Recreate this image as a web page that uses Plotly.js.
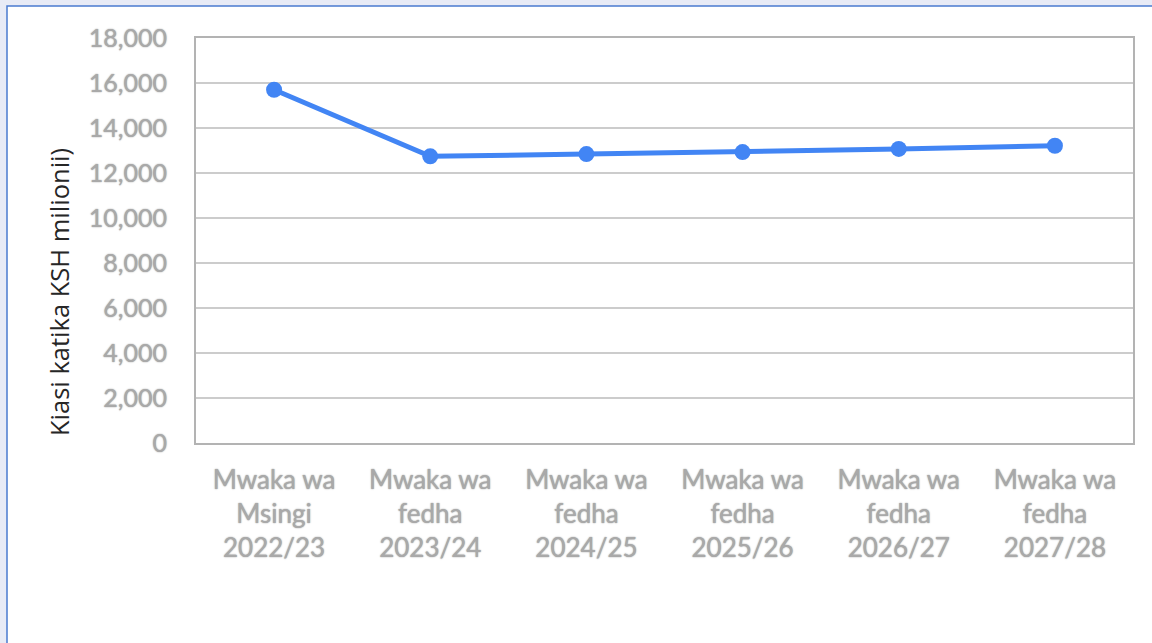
<!DOCTYPE html>
<html>
<head>
<meta charset="utf-8">
<script src="https://cdn.plot.ly/plotly-3.0.1.min.js"></script>
<style>html,body{margin:0;padding:0;background:#e8ebf6;}#chart{width:1152px;height:643px;}</style>
</head>
<body>
<div id="chart"></div>
<script>
const categories = [
  "Mwaka wa<br>Msingi<br>2022/23",
  "Mwaka wa<br>fedha<br>2023/24",
  "Mwaka wa<br>fedha<br>2024/25",
  "Mwaka wa<br>fedha<br>2025/26",
  "Mwaka wa<br>fedha<br>2026/27",
  "Mwaka wa<br>fedha<br>2027/28"
];
const values = [15700, 12740, 12840, 12930, 13070, 13210];
const yTickVals = [0, 2000, 4000, 6000, 8000, 10000, 12000, 14000, 16000, 18000];
const yTickText = ["0", "2,000", "4,000", "6,000", "8,000", "10,000", "12,000", "14,000", "16,000", "18,000"];
const yTitle = "Kiasi katika KSH milionii)";

const W = 1152, H = 643;
const m = {l: 196, r: 19, t: 38, b: 200};
const pw = W - m.l - m.r, ph = H - m.t - m.b;
const glow = '0 0 1.5px #8c8c8c';

const trace = {
  x: [0,1,2,3,4,5],
  y: values,
  type: 'scatter',
  mode: 'lines+markers',
  line: {color: '#4285f4', width: 5},
  marker: {color: '#4285f4', size: 16},
  hoverinfo: 'skip'
};

const layout = {
  width: W, height: H,
  margin: m,
  paper_bgcolor: '#e8ebf6',
  plot_bgcolor: '#ffffff',
  showlegend: false,
  font: {family: 'Lato, Carlito, sans-serif', color: '#a6a6a6'},
  xaxis: {
    range: [-0.5, 5.5],
    tickvals: [0,1,2,3,4,5],
    ticktext: categories,
    showgrid: false,
    zeroline: false,
    showline: true, linecolor: '#b3b3b3', linewidth: 2, mirror: true,
    ticks: 'outside', ticklen: 13, tickcolor: 'rgba(0,0,0,0)',
    tickfont: {size: 26, color: '#a9a9a9', family: 'Lato, sans-serif', shadow: glow},
    fixedrange: true
  },
  yaxis: {
    range: [0, 18000],
    tickvals: yTickVals,
    ticktext: yTickText,
    showgrid: true, gridcolor: '#cccccc', gridwidth: 1.5,
    zeroline: false,
    showline: true, linecolor: '#b3b3b3', linewidth: 2, mirror: true,
    ticks: 'outside', ticklen: 22, tickcolor: 'rgba(0,0,0,0)',
    tickfont: {size: 25, color: '#a9a9a9', family: 'Lato, sans-serif', shadow: glow},
    fixedrange: true
  },
  annotations: [{
    text: yTitle, textangle: -90,
    xref: 'paper', yref: 'paper',
    x: (59 - m.l) / pw, y: (m.t + ph - 292) / ph,
    xanchor: 'center', yanchor: 'middle', showarrow: false,
    font: {size: 25.5, color: '#262626', family: '"Open Sans", sans-serif'}
  }],
  shapes: [{
    type: 'rect', xref: 'paper', yref: 'paper', layer: 'below',
    x0: (7 - m.l) / pw, x1: (W + 20 - m.l) / pw,
    y0: -(H + 20 - m.t - ph) / ph, y1: (m.t + ph - 6) / ph,
    fillcolor: '#ffffff',
    line: {color: '#4a7bd0', width: 1.5}
  }]
};

Plotly.newPlot('chart', [trace], layout, {displayModeBar: false, staticPlot: true});
</script>
</body>
</html>
